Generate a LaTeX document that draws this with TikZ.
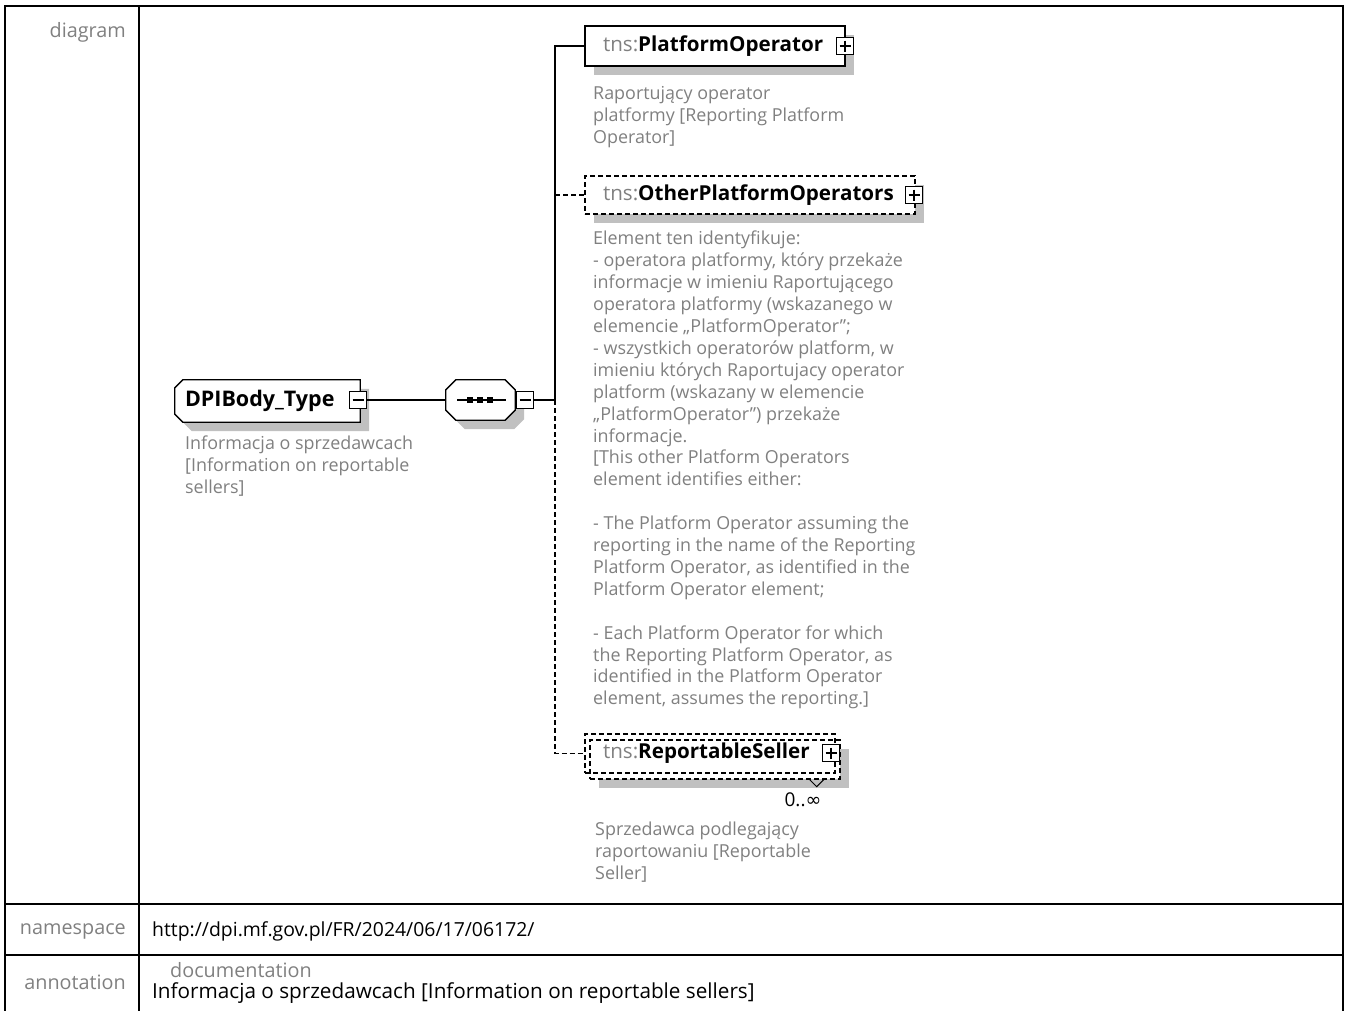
\documentclass[tikz,border=0pt]{standalone}
\usepackage{fontspec}
\setmainfont{Open Sans}
\newfontfamily\symfont{DejaVu Sans}
\usetikzlibrary{shadows,backgrounds}
\definecolor{docgray}{RGB}{128,128,128}
\definecolor{shadowgray}{RGB}{192,192,192}

\begin{document}
\begin{tikzpicture}[
x=1pt, y=-1pt,
frame/.style={line width=2.5pt},
rowlabel/.style={text=docgray, inner sep=0pt, font=\fontsize{19.8}{22}\selectfont},
rowtext/.style={text=black, inner sep=0pt, font=\fontsize{20.7}{22}\selectfont},
shadowed/.style={drop shadow={shadow xshift=9pt, shadow yshift=-9pt, fill=shadowgray, opacity=1}},
outline/.style={draw, line width=1.3pt, fill=white, shadowed},
elembox/.style={draw, line width=1.3pt, rectangle, minimum height=40pt, inner xsep=18pt, inner ysep=0pt, align=left, font=\fontsize{20.6}{24}\selectfont},
elem/.style={elembox, fill=white, shadowed},
optelem/.style={elem, dash pattern=on 5pt off 3pt},
doc/.style={text=docgray, inner sep=0pt, align=left, anchor=north west, font=\fontsize{17.9}{21.9}\selectfont},
sign/.style={draw, fill=white, line width=1.2pt, minimum size=17pt, inner sep=0pt},
minusbox/.style={sign, path picture={\draw[line width=1.2pt] ([xshift=3pt]path picture bounding box.west) -- ([xshift=-3pt]path picture bounding box.east);}},
plusbox/.style={sign, path picture={\draw[line width=1.2pt] ([xshift=3pt]path picture bounding box.west) -- ([xshift=-3pt]path picture bounding box.east) ([yshift=-3pt]path picture bounding box.north) -- ([yshift=3pt]path picture bounding box.south);}},
line/.style={line width=1.3pt},
optline/.style={line, dash pattern=on 5pt off 3pt}
]

\useasboundingbox (0,0) rectangle (1346,1010);

\draw[frame] (5,1020) -- (5,6) -- (1343,6) -- (1343,1020);

\draw[frame] (139,6) -- (139,1020);

\draw[frame] (5,904) -- (1343,904);

\draw[frame] (5,955) -- (1343,955);

\node[rowlabel, anchor=east](diaglabel) at (126,32) {diagram};

\node[rowlabel, anchor=east](nslabel) at (126,931) {namespace};

\node[rowlabel, anchor=east](annlabel) at (126,982) {annotation};

\node[rowtext, anchor=west, font=\fontsize{19.4}{22}\selectfont](nsvalue) at (152,931) {http://dpi.mf.gov.pl/FR/2024/06/17/06172/};

\node[rowlabel, anchor=west](doclabel) at (170,970) {documentation};

\node[rowtext, anchor=west](docvalue) at (152,993) {Informacja o sprzedawcach [Information on reportable sellers]};

\node[minimum width=185pt, minimum height=42pt, inner xsep=10pt, inner ysep=0pt, text width=165pt, align=left, font=\fontsize{21.5}{24}\selectfont\bfseries](body) at (267.5,401) {DPIBody\_Type};

\node[minimum width=69pt, minimum height=40pt, inner sep=0pt](seq) at (480.5,400) {};

\begin{scope}[on background layer]
\filldraw[outline] ([xshift=8pt]body.north west) -- (body.north east) -- (body.south east) -- ([xshift=8pt]body.south west) -- ([yshift=8pt]body.south west) -- ([yshift=-8pt]body.north west) -- cycle;

\filldraw[outline] ([xshift=10pt]seq.north west) -- ([xshift=-10pt]seq.north east) -- ([yshift=-10pt]seq.north east) -- ([yshift=10pt]seq.south east) -- ([xshift=-10pt]seq.south east) -- ([xshift=10pt]seq.south west) -- ([yshift=10pt]seq.south west) -- ([yshift=-10pt]seq.north west) -- cycle;
\end{scope}

\node[elem, minimum width=260pt, text width=224pt](po) at (715,46) {\textcolor{docgray}{tns:}\textbf{PlatformOperator}};

\node[optelem, minimum width=330pt, minimum height=38pt, text width=294pt](opo) at (750,195) {\textcolor{docgray}{tns:}\textbf{OtherPlatformOperators}};

\node[optelem, minimum width=250pt, minimum height=39pt, text width=214pt](rsstack) at (715,759.5) {};

\node[elembox, dash pattern=on 5pt off 3pt, minimum width=250pt, minimum height=39pt, text width=214pt](rs) at (710,753.5) {\textcolor{docgray}{tns:}\textbf{ReportableSeller}};

\node[minusbox](bodyminus) at (358,400) {};

\node[minusbox](seqminus) at (525,400) {};

\node[plusbox](poplus) at (845,46) {};

\node[plusbox](opoplus) at (914,195) {};

\node[plusbox](rsplus) at (831,753) {};

\draw[line] ([xshift=-23.5pt]seq.center) -- ([xshift=25.5pt]seq.center);

\foreach \dx in {-10.5,-0.5,9.5}
  \fill ([xshift=\dx pt]seq.center) +(-3,-3) rectangle +(3,3);

\coordinate (seqjoint) at (555,400);

\coordinate (otherjoint) at (555,195);

\draw[line] (bodyminus) -- (seq);

\draw[line] (seqminus) -- (seqjoint);

\draw[line] (seqjoint) |- (po);

\draw[optline] (otherjoint) -- (opo);

\draw[optline] (seqjoint) |- (rs);

\draw[line, line width=1pt] ([xshift=-31pt]rsstack.south east) -- ++(7,7) -- ++(7,-7);

\node[inner sep=0pt, font=\fontsize{19}{22}\selectfont](mult) at (803,800) {0..{\symfont ∞}};

\node[doc](bodydoc) at (185,436) {Informacja o sprzedawcach\\{[}Information on reportable\\sellers]};

\node[doc](podoc) at (593,86) {Raportujący operator\\platformy {[}Reporting Platform\\Operator]};

\node[doc](opodoc) at (593,231) {Element ten identyfikuje:\\- operatora platformy, który przekaże\\informacje w imieniu Raportującego\\operatora platformy (wskazanego w\\elemencie „PlatformOperator”;\\- wszystkich operatorów platform, w\\imieniu których Raportujacy operator\\platform (wskazany w elemencie\\„PlatformOperator”) przekaże\\informacje.\\{[}This other Platform Operators\\element identifies either:\\\mbox{}\\- The Platform Operator assuming the\\reporting in the name of the Reporting\\Platform Operator, as identified in the\\Platform Operator element;\\\mbox{}\\- Each Platform Operator for which\\the Reporting Platform Operator, as\\identified in the Platform Operator\\element, assumes the reporting.]};

\node[doc](rsdoc) at (595,822) {Sprzedawca podlegający\\raportowaniu {[}Reportable\\Seller]};
\end{tikzpicture}
\end{document}
